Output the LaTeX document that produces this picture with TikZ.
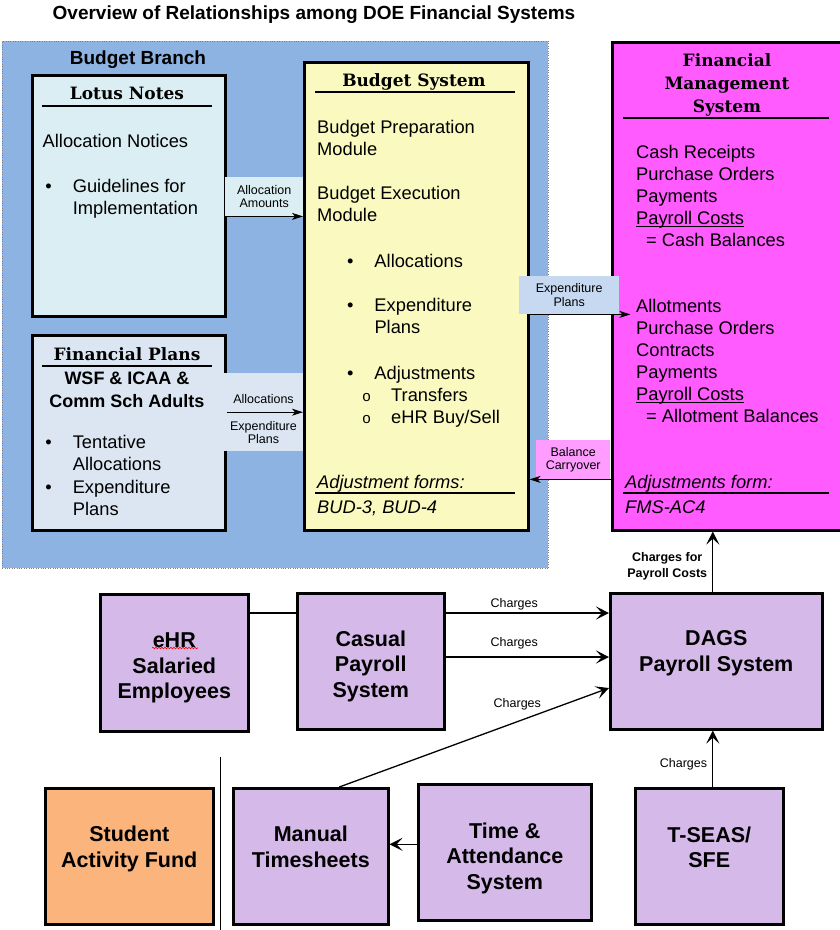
\documentclass[tikz,border=0pt]{standalone}
\usepackage{fontspec}
\setmainfont{Liberation Sans}
\newfontfamily\headserif{DejaVu Serif}
\newfontfamily\bulletmono{Liberation Mono}
\usetikzlibrary{arrows.meta,decorations.pathmorphing}

\definecolor{branchblue}{HTML}{8DB3E2}
\definecolor{lotusblue}{HTML}{DAEEF3}
\definecolor{plangray}{HTML}{DCE6F2}
\definecolor{budgetyellow}{HTML}{FAFAC0}
\definecolor{fmsmagenta}{HTML}{FF5BFF}
\definecolor{expblue}{HTML}{C6D9F1}
\definecolor{carrypink}{HTML}{FF9CFF}
\definecolor{payrolllilac}{HTML}{D5B9E8}
\definecolor{fundorange}{HTML}{FAB47C}

\newcommand{\bodyfont}{\fontsize{18.3}{22}\selectfont}
\newcommand{\headfont}{\headserif\bfseries\fontsize{17}{23}\selectfont}
\newcommand{\tagfont}{\fontsize{12.5}{13.5}\selectfont}
\newcommand{\boxfont}{\bfseries\fontsize{21.5}{25.5}\selectfont}
\newcommand{\bul}[1]{\hspace*{#1}\makebox[27.5pt][l]{•}}
\newcommand{\subbul}[1]{\hspace*{#1}\makebox[29pt][l]{\bulletmono\fontsize{15}{15}\selectfont o}}
\newcommand{\costline}[1]{\setbox0\hbox{#1}\rlap{\rule[-2.6pt]{\wd0}{1.1pt}}\box0}

\begin{document}
\begin{tikzpicture}[x=1pt,y=-1pt]
\tikzstyle{every node}+=[inner sep=0pt]
\tikzstyle{sysbox}=[draw=black, line width=2.6pt, anchor=north west]
\tikzstyle{tagbox}=[anchor=north west, font=\tagfont, align=center]
\tikzstyle{body}=[anchor=north west, font=\bodyfont, align=left]
\tikzstyle{head}=[anchor=north, font=\headfont, align=center]
\tikzstyle{boxlabel}=[font=\boxfont, align=center]
\tikzstyle{headrule}=[line width=1.2pt]
\tikzstyle{tagarr}=[line width=1pt, -{Stealth[length=11pt,width=7pt,inset=3pt]}]
\tikzstyle{arr}=[line width=1.3pt, -{Stealth[length=13pt,width=13pt,inset=6pt]}]
\useasboundingbox (0,0) rectangle (839,930);

\node[font=\bfseries\fontsize{19}{22}\selectfont, anchor=north] (title) at (314,6) {Overview of Relationships among DOE Financial Systems};

% budget branch
\node[draw=gray, dotted, fill=branchblue, anchor=north west, minimum width=546pt, minimum height=527pt] (branch) at (2,41) {};
\node[font=\bfseries\fontsize{19}{22}\selectfont, anchor=north] (branchtitle) at (138,51) {Budget Branch};

\node[sysbox, fill=lotusblue, minimum width=193pt, minimum height=241pt] (lotus) at (31,74) {};
\node[head] (lotushead) at (127,87) {Lotus Notes};
\draw[headrule] (42,106) -- (212,106);
\node[body] (lotustext) at (42.5,134) {Allocation Notices\\[23.5pt]\bul{2.6pt}Guidelines for\\\hspace*{30.2pt}Implementation};

\node[sysbox, fill=plangray, minimum width=193pt, minimum height=195pt] (plans) at (31,334) {};
\node[head] (planshead) at (127,347) {Financial Plans};
\draw[headrule] (42,366) -- (212,366);
\node[anchor=north, font=\bfseries\fontsize{18}{23}\selectfont, align=center] (planswsf) at (127,372) {WSF \& ICAA \&\\Comm Sch Adults};
\node[body, font=\fontsize{18.3}{21.5}\selectfont] (planstext) at (42.5,435.5) {\bul{2.6pt}Tentative\\\hspace*{30.2pt}Allocations\\[2pt]\bul{2.6pt}Expenditure\\\hspace*{30.2pt}Plans};

\node[sysbox, fill=budgetyellow, minimum width=224pt, minimum height=468pt] (budget) at (303,61) {};
\node[head] (budgethead) at (414,73) {Budget System};
\draw[headrule] (315,92) -- (515,92);
\node[body] (budgettext) at (317,120) {Budget Preparation\\Module\\[22pt]Budget Execution\\Module\\[24pt]\bul{29.8pt}Allocations\\[22pt]\bul{29.8pt}Expenditure\\\hspace*{57.3pt}Plans\\[24pt]\bul{29.8pt}Adjustments\\\subbul{45pt}Transfers\\\subbul{45pt}eHR Buy/Sell};
\node[body, font=\itshape\fontsize{18.3}{22}\selectfont] (budgetforms) at (317,475) {Adjustment forms:\\[3pt]BUD-3, BUD-4};
\draw[headrule] (315,493) -- (515,493);

% financial management system
\node[sysbox, fill=fmsmagenta, minimum width=231pt, minimum height=488pt] (fms) at (611,41) {};
\node[head] (fmshead) at (727,53) {Financial\\Management\\System};
\draw[headrule] (623,118) -- (829,118);
\node[body] (fmstext) at (636,145) {Cash Receipts\\Purchase Orders\\Payments\\\costline{Payroll Costs}\\\hspace*{10pt}= Cash Balances\\[44pt]Allotments\\Purchase Orders\\Contracts\\Payments\\\costline{Payroll Costs}\\\hspace*{10pt}= Allotment Balances};
\node[body, font=\itshape\fontsize{18.3}{22}\selectfont] (fmsforms) at (625,475) {Adjustments form:\\[3pt]FMS-AC4};
\draw[headrule] (623,493) -- (829,493);

% flows between the systems
\node[tagbox, fill=lotusblue, minimum width=78pt, minimum height=39pt] (tagamounts) at (225,177) {Allocation\\Amounts};
\node[tagbox, fill=plangray, minimum width=79pt, minimum height=78pt] (tagalloc) at (224,373) {};
\node[font=\tagfont, align=center, anchor=north] (tagalloctext) at (263.5,394) {Allocations\\[13.5pt]Expenditure\\Plans};
\node[tagbox, fill=expblue, minimum width=100pt, minimum height=38pt] (tagexp) at (519,276) {Expenditure\\Plans};
\node[tagbox, fill=carrypink, minimum width=74pt, minimum height=39pt] (tagcarry) at (536,440) {Balance\\Carryover};
\draw[tagarr] (lotus.east |- tagamounts.south) -- (budget.west |- tagamounts.south);
\draw[tagarr] (plans.east |- tagalloc.center) -- (budget.west |- tagalloc.center);
\draw[tagarr] (budget.east |- tagexp.south) -- ([xshift=11pt]tagexp.south east);
\draw[tagarr] (fms.west |- tagcarry.south) -- (budget.east |- tagcarry.south);

% payroll systems
\node[sysbox, fill=payrolllilac, minimum width=148pt, minimum height=137pt] (ehr) at (99,593) {};
\node[sysbox, fill=payrolllilac, minimum width=147pt, minimum height=136pt] (casual) at (296,592) {};
\node[sysbox, fill=payrolllilac, minimum width=212pt, minimum height=136pt] (dags) at (609,592) {};
\node[sysbox, fill=fundorange, minimum width=168pt, minimum height=136pt] (fund) at (44,787) {};
\node[sysbox, fill=payrolllilac, minimum width=155pt, minimum height=136pt] (manual) at (232,787) {};
\node[sysbox, fill=payrolllilac, minimum width=173pt, minimum height=136pt] (timeatt) at (417,783) {};
\node[sysbox, fill=payrolllilac, minimum width=148pt, minimum height=136pt] (tseas) at (634,787) {};
\node[boxlabel] (ehrtext) at ([yshift=-5.5pt]ehr.center) {eHR\\Salaried\\Employees};
\draw[red, line width=0.6pt, decorate, decoration={snake, amplitude=0.8pt, segment length=3pt}] (152,648) -- (198,648);
\node[boxlabel] (casualtext) at ([yshift=-5pt]casual.center) {Casual\\Payroll\\System};
\node[boxlabel] (dagstext) at ([yshift=8pt]dags.center) {DAGS\\Payroll System};
\node[boxlabel] (fundtext) at ([yshift=7.5pt]fund.center) {Student\\Activity Fund};
\node[boxlabel] (manualtext) at ([yshift=9.5pt]manual.center) {Manual\\Timesheets};
\node[boxlabel] (timetext) at ([yshift=-6pt]timeatt.center) {Time \&\\Attendance\\System};
\node[boxlabel] (tseastext) at ([yshift=9pt]tseas.center) {T-SEAS/\\SFE};
\draw[line width=1pt] (220,757) -- (220,932);

\coordinate (ehrlink) at ([yshift=-20pt]ehr.north east);
\draw[line width=1.3pt] (ehrlink) -- (ehrlink -| casual.west);
\draw[arr] ([yshift=-21pt]casual.north east) -- ([yshift=-21pt]dags.north west) node[pos=0.42, above=2pt, font=\tagfont] (chgcasual1) {Charges};
\draw[arr] ([yshift=-65pt]casual.north east) -- ([yshift=-65pt]dags.north west) node[pos=0.42, above=7pt, font=\tagfont] (chgcasual2) {Charges};
\draw[arr] ([xshift=28.5pt]manual.north) -- ([yshift=-96pt]dags.north west) node[pos=0.66, above=11pt, font=\tagfont] (chgmanual) {Charges};
\draw[arr] ([yshift=8pt]timeatt.west) -- ([yshift=12pt]manual.east);
\coordinate (chargeline) at ([xshift=3.5pt]tseas.north);
\draw[arr] (chargeline) -- (chargeline |- dags.south) node[pos=0.41, left=5pt, font=\tagfont] (chgtseas) {Charges};
\draw[arr] (chargeline |- dags.north) -- (chargeline |- fms.south) node[pos=0.43, left=5pt, font=\bfseries\fontsize{12.5}{16}\selectfont, align=center] (chgfms) {Charges for\\Payroll Costs};
\end{tikzpicture}
\end{document}
